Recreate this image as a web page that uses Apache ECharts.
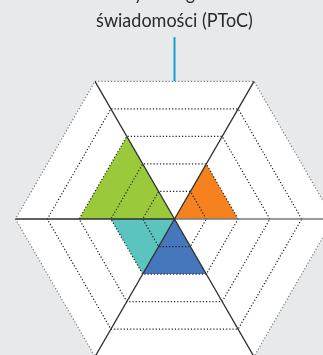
<!DOCTYPE html>
<html>
<head>
<meta charset="utf-8">
<style>
html,body{margin:0;padding:0;background:#e8e9eb;}
#chart{width:323px;height:355px;}
</style>
<script src="https://cdn.jsdelivr.net/npm/echarts@6/dist/echarts.min.js"></script>
</head>
<body>
<div id="chart"></div>
<script>
// Sectors of the hexagon, counter-clockwise starting at the 0° spoke (right)
const sectorNames = ['S1', 'S2', 'S3', 'S4', 'S5', 'S6'];
const sectorValues = [2, 0, 3, 2, 2, 0];
const sectorColors = ['#f5821f', '#ffffff', '#9bc93c', '#5bc4bf', '#4676bb', '#ffffff'];
const ringLevels = [1, 2, 3, 4, 5];
const maxLevel = 5;
const titleLines = ['Wyniki ogólnie', 'świadomości (PToC)'];

// layout of the plot inside the 323x355 canvas
const W = 323, H = 355, CX = 174.5, CY = 219, R = 159;
const K = R / maxLevel; // pixels per level

const chart = echarts.init(document.getElementById('chart'), null, {renderer: 'canvas'});
const DEG = Math.PI / 180;
function pt(api, r, angDeg) {
  return api.coord([r * Math.cos(angDeg * DEG), r * Math.sin(angDeg * DEG)]);
}
function hexPoints(api, r) {
  const p = [];
  for (let i = 0; i < 6; i++) p.push(pt(api, r, i * 60));
  return p;
}

const option = {
  backgroundColor: '#e8e9eb',
  animation: false,
  grid: {left: 0, right: 0, top: 0, bottom: 0},
  xAxis: {type: 'value', min: -CX / K, max: (W - CX) / K, show: false},
  yAxis: {type: 'value', min: -(H - CY) / K, max: CY / K, show: false},
  graphic: [
    {type: 'text', x: CX, y: 0, scaleX: 0.9,
      style: {text: titleLines[0], x: 0, y: 4, font: '20px Lato', fill: '#2b2b2b', align: 'center', verticalAlign: 'bottom'}},
    {type: 'text', x: CX, y: 0, scaleX: 0.9,
      style: {text: titleLines[1], x: 0, y: 31, font: '20px Lato', fill: '#2b2b2b', align: 'center', verticalAlign: 'bottom'}}
  ],
  series: [
    { // white hexagon
      type: 'custom', clip: false, z: 1,
      data: [[maxLevel]],
      renderItem: function (params, api) {
        return {type: 'polygon', shape: {points: hexPoints(api, api.value(0))}, style: {fill: '#ffffff'}};
      }
    },
    { // sector fills
      type: 'custom', clip: false, z: 2,
      data: sectorValues.map((v, i) => [i, v]),
      renderItem: function (params, api) {
        const i = api.value(0), v = api.value(1);
        if (!v) return null;
        return {type: 'polygon', shape: {points: [pt(api, 0, 0), pt(api, v, i * 60), pt(api, v, i * 60 + 60)]},
          style: {fill: sectorColors[i]}};
      }
    },
    { // rings
      type: 'custom', clip: false, z: 3,
      data: ringLevels.map(r => [r]),
      renderItem: function (params, api) {
        const r = api.value(0);
        const p = hexPoints(api, r);
        return {type: 'polygon', shape: {points: p},
          style: {fill: null, stroke: r === maxLevel ? '#7a7a7a' : '#1e1e1e', lineWidth: 1.2, lineDash: [1.2, 2]}};
      }
    },
    { // spokes
      type: 'custom', clip: false, z: 4,
      data: [0, 1, 2, 3, 4, 5].map(i => [i]),
      renderItem: function (params, api) {
        const i = api.value(0);
        const a = pt(api, 0, 0), b = pt(api, maxLevel, i * 60);
        return {type: 'line', shape: {x1: a[0], y1: a[1], x2: b[0], y2: b[1]},
          style: {stroke: i === 0 ? '#7a7a7a' : '#2e2e2e', lineWidth: 1.3}};
      }
    },
    { // leader line to title
      type: 'custom', clip: false, z: 4,
      data: [[0, maxLevel * Math.sin(60 * DEG), 5.72]],
      renderItem: function (params, api) {
        const a = api.coord([api.value(0), api.value(1)]), b = api.coord([api.value(0), api.value(2)]);
        return {type: 'line', shape: {x1: a[0], y1: a[1], x2: b[0], y2: b[1]},
          style: {stroke: '#1a9ad6', lineWidth: 2}};
      }
    }
  ]
};
chart.setOption(option);
</script>
</body>
</html>
